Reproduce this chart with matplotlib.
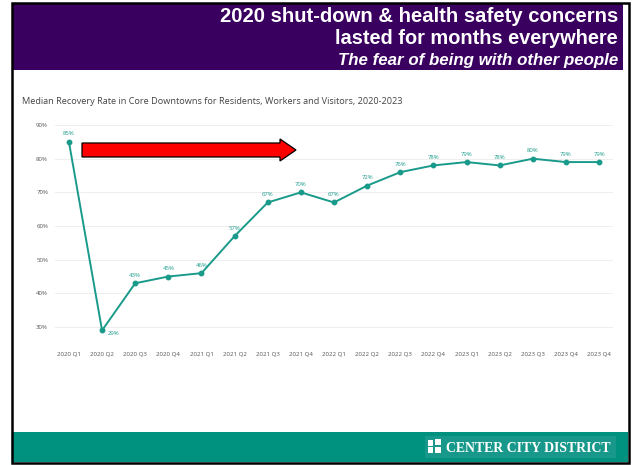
import matplotlib
matplotlib.use("Agg")
import matplotlib.pyplot as plt
from matplotlib.patches import Rectangle, Polygon

quarters = ["2020 Q1", "2020 Q2", "2020 Q3", "2020 Q4",
            "2021 Q1", "2021 Q2", "2021 Q3", "2021 Q4",
            "2022 Q1", "2022 Q2", "2022 Q3", "2022 Q4",
            "2023 Q1", "2023 Q2", "2023 Q3", "2023 Q4", "2023 Q4"]
recovery = [85, 29, 43, 45, 46, 57, 67, 70, 67, 72, 76, 78, 79, 78, 80, 79, 79]
yticks = [30, 40, 50, 60, 70, 80, 90]

W, H = 634, 465
PURPLE = "#3a0060"
TEAL = "#00917f"
LINE = "#1a9a8a"

fig = plt.figure(figsize=(W / 100, H / 100), dpi=100)
fig.patch.set_facecolor("white")


def fx(x):
    return x / W


def fy(y):
    return 1 - y / H


def box(x0, y0, x1, y1, **kw):
    fig.add_artist(Rectangle((fx(x0), fy(y1)), fx(x1) - fx(x0), fy(y0) - fy(y1),
                             transform=fig.transFigure, **kw))


# slide frame, header band, footer band
box(12, 4, 623, 70, facecolor=PURPLE, edgecolor="none", zorder=0)
box(12, 432, 628, 462, facecolor=TEAL, edgecolor="none", zorder=0)
box(11.5, 3.5, 628.5, 462.5, facecolor="none", edgecolor="black", linewidth=1.8, zorder=5)

hdr = dict(color="white", ha="right", va="center", family="Liberation Sans",
           fontweight="bold", transform=fig.transFigure)
fig.text(fx(618), fy(16), "2020 shut-down & health safety concerns", fontsize=14.6, **hdr)
fig.text(fx(618), fy(38), "lasted for months everywhere", fontsize=14.4, **hdr)
fig.text(fx(618), fy(60), "The fear of being with other people", fontsize=12.2,
         style="italic", **hdr)

# footer logo
box(425, 436, 616, 458, facecolor="#17988a", edgecolor="none", zorder=1)
for (sx, sy) in [(428, 440), (435, 439), (428, 447), (435, 447)]:
    box(sx, sy, sx + 5.5, sy + 5.5, facecolor="white", edgecolor="none", zorder=2)
fig.text(fx(446), fy(448), "CENTER CITY DISTRICT", color="white", fontsize=9.9,
         family="Liberation Serif", fontweight="bold", ha="left", va="center",
         transform=fig.transFigure, zorder=3)

# chart title
fig.text(fx(22), fy(101), "Median Recovery Rate in Core Downtowns for Residents, Workers and Visitors, 2020-2023",
         color="#444444", fontsize=6.55, family="Open Sans", ha="left", va="center")

# main line chart
ax_l, ax_r, ax_t, ax_b = 55, 613, 118.3, 340.5
ax = fig.add_axes([fx(ax_l), fy(ax_b), fx(ax_r) - fx(ax_l), fy(ax_t) - fy(ax_b)])
ax.set_facecolor("none")
x = list(range(len(recovery)))
ax.plot(x, recovery, color=LINE, linewidth=1.4, marker="o", markersize=3.2, zorder=3)
ax.set_xlim(-0.42, 16.42)
ax.set_ylim(26, 92)
ax.set_yticks(yticks)
ax.set_yticklabels([f"{v}%" for v in yticks])
ax.set_xticks(x)
ax.set_xticklabels(quarters)
ax.tick_params(axis="both", length=0, labelsize=4.4, labelcolor="#555555")
ax.tick_params(axis="x", pad=8)
ax.tick_params(axis="y", pad=5)
for lbl in ax.get_xticklabels() + ax.get_yticklabels():
    lbl.set_family("Open Sans")
for s in ax.spines.values():
    s.set_visible(False)
ax.grid(axis="y", color="#eeeeee", linewidth=0.7)
ax.set_axisbelow(True)

for i, v in enumerate(recovery):
    if i == 1:
        ax.annotate(f"{v}%", (i, v), xytext=(4, -2), textcoords="offset points",
                    ha="left", va="center", fontsize=4.3, color=LINE, family="Open Sans")
    else:
        ax.annotate(f"{v}%", (i, v), xytext=(0, 4), textcoords="offset points",
                    ha="center", va="bottom", fontsize=4.3, color=LINE, family="Open Sans")

# red arrow across the top
fig.add_artist(Polygon([(fx(82), fy(143)), (fx(280), fy(143)), (fx(280), fy(139)),
                        (fx(296), fy(150)), (fx(280), fy(161)), (fx(280), fy(157)),
                        (fx(82), fy(157))], closed=True, facecolor="#ff0000",
                       edgecolor="black", linewidth=0.9, transform=fig.transFigure, zorder=6))

fig.savefig("out.png", dpi=100)
